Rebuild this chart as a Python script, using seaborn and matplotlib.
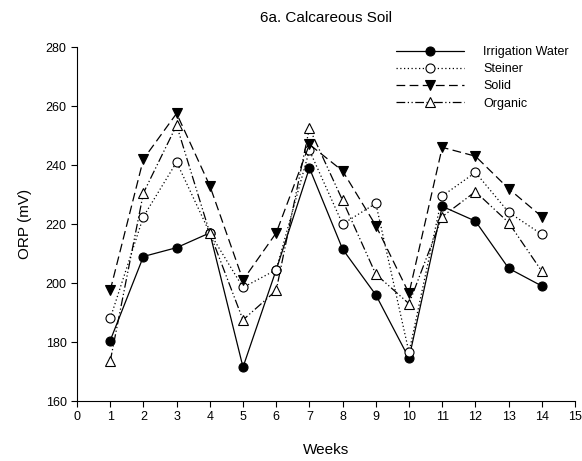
import matplotlib
matplotlib.use("Agg")
import matplotlib.pyplot as plt
import seaborn as sns
import pandas as pd

weeks = list(range(1, 15))
irrigation_water = [180.5, 209, 212, 217, 171.5, 204.5, 239, 211.5, 196, 174.5, 226, 221, 205, 199]
steiner = [188, 222.5, 241, 217, 198.5, 204.5, 245, 220, 227, 176.5, 229.5, 237.5, 224, 216.5]
solid = [197.5, 242, 257.5, 233, 201, 217, 247, 238, 219.5, 196.5, 246, 243, 232, 222.5]
organic = [173.5, 230.5, 253.5, 217, 187.5, 197.5, 252.5, 228, 203, 193, 222.5, 231, 220.5, 204]

series_names = ["Irrigation Water", "Steiner", "Solid", "Organic"]
x_ticks = list(range(0, 16))
y_ticks = list(range(160, 281, 20))

sns.set_style("white")
plt.rcParams["font.family"] = ["Liberation Sans", "DejaVu Sans"]
plt.rcParams["text.color"] = "black"
plt.rcParams["axes.labelcolor"] = "black"

df = pd.DataFrame({
    "Weeks": weeks * 4,
    "ORP": irrigation_water + steiner + solid + organic,
    "Treatment": sum([[n] * len(weeks) for n in series_names], []),
})

styles = {
    "Irrigation Water": dict(marker="o", mfc="black", dashes=None),
    "Steiner": dict(marker="o", mfc="white", dashes=(1, 2)),
    "Solid": dict(marker="v", mfc="black", dashes=(7, 3.5)),
    "Organic": dict(marker="^", mfc="white", dashes=(7, 2, 1, 2, 1, 2)),
}

fig = plt.figure(figsize=(5.82, 4.61), dpi=100)
ax = fig.add_axes([0.1323, 0.130, 0.8557, 0.768])

for name in series_names:
    st = styles[name]
    sub = df[df["Treatment"] == name]
    sns.lineplot(data=sub, x="Weeks", y="ORP", ax=ax, color="black",
                 linewidth=0.9, marker=st["marker"], markersize=6.5,
                 markerfacecolor=st["mfc"], markeredgecolor="black",
                 markeredgewidth=0.8, label=name)
    line = ax.get_lines()[-1]
    if st["dashes"] is not None:
        line.set_dashes(st["dashes"])

ax.set_xlim(0, 15)
ax.set_ylim(160, 280)
ax.set_xticks(x_ticks)
ax.set_yticks(y_ticks)
ax.tick_params(axis="both", direction="out", length=4, width=0.8,
               labelsize=9, colors="black", bottom=True, left=True)
for side in ["top", "right"]:
    ax.spines[side].set_visible(False)
for side in ["left", "bottom"]:
    ax.spines[side].set_color("black")
    ax.spines[side].set_linewidth(0.8)

ax.set_xlabel("Weeks", fontsize=11, labelpad=14)
ax.set_ylabel("ORP (mV)", fontsize=11, labelpad=10)
ax.set_title("6a. Calcareous Soil", fontsize=11, pad=18)

leg = ax.legend(loc="upper right", bbox_to_anchor=(1.01, 1.035), frameon=False,
                fontsize=9, handlelength=5.5, labelspacing=0.42, handletextpad=1.5)
for h in leg.get_lines():
    h.set_linewidth(0.9)
for t in leg.get_texts():
    t.set_color("black")

fig.savefig("out.png", dpi=100)
